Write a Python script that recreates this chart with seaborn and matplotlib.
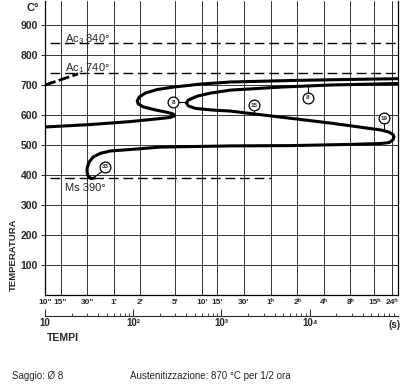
import matplotlib
matplotlib.use("Agg")
import matplotlib.pyplot as plt
from matplotlib.ticker import LogLocator, NullFormatter, NullLocator
import seaborn as sns

# assi: tempi (s) e temperature (°C)
time_ticks = [10, 15, 30, 60, 120, 300, 600, 900, 1800, 3600, 7200, 14400, 28800, 54000, 86400]
time_labels = ['10"', '15"', '30"', "1'", "2'", "5'", "10'", "15'", "30'",
               "1ʰ", "2ʰ", "4ʰ", "8ʰ", "15ʰ", "24ʰ"]
temp_ticks = [100, 200, 300, 400, 500, 600, 700, 800, 900]
sec_ticks = [10, 100, 1000, 10000]
sec_labels = ["10", "10²", "10³", "10⁴"]

# curva esterna (inizio trasformazione)
outer_t = [10, 32, 92, 200, 263, 292, 285, 250, 178, 130, 114, 111, 117, 137,
           187, 285, 577, 1265, 6080, 22500, 98000]
outer_T = [560, 568, 578, 588, 592, 597, 603, 608, 617, 627, 637, 647, 660, 673,
           685, 693, 703, 710, 715, 718, 721]

# curva interna (fine trasformazione) + ramo bainitico
inner_t = [98000, 17300, 4680, 1265, 750, 534, 422, 400, 422, 507, 750, 1265, 3600,
           17300, 64100, 79100, 87700, 90100, 87700, 79100, 64100, 29200, 6080, 1265,
           203, 92.5, 54.8, 42.2, 35.1, 31.6, 30, 30, 30.8, 33.3, 36]
inner_T = [705, 700, 693, 683, 673, 663, 650, 640, 630, 622, 617, 613, 597,
           573, 550, 543, 535, 527, 517, 508, 505, 502, 498, 497,
           493, 485, 480, 472, 460, 443, 423, 410, 397, 388, 390]

# tratto tratteggiato iniziale
start_t = [10, 23.7]
start_T = [700, 737]

ac3, ac1, ms = 840, 740, 390
ms_end = 3600

# durezze (cerchietti)
hv_labels = ["8", "15", "8", "19", "33"]
hv_t = [285, 2310, 9480, 69000, 48]
hv_T = [643, 633, 657, 590, 427]
lead_t = [[324, 395], [2310, 2310], [9480, 9480], [69000, 69000], [43.5, 36]]
lead_T = [[643, 643], [617, 603], [673, 697], [573, 547], [410, 392]]

sns.set_style("white")
plt.rcParams["font.family"] = ["Liberation Sans", "DejaVu Sans"]
plt.rcParams["mathtext.default"] = "regular"

fig = plt.figure(figsize=(4.12, 3.92), dpi=100)
ax = fig.add_axes([45 / 412, 97 / 392, 353 / 412, 294 / 392])
ax.set_xscale("log")
ax.set_xlim(10, 100000)
ax.set_ylim(0, 980)

# griglia
for t in time_ticks:
    ax.axvline(t, color="#333333", lw=0.7, zorder=0)
for T in temp_ticks:
    ax.axhline(T, color="#333333", lw=0.7, zorder=0)

dash = (0, (7, 3.5))
ax.plot([11.4, 100000], [ac3, ac3], color="black", lw=1.0, ls=dash)
ax.plot([11.4, 100000], [ac1, ac1], color="black", lw=1.0, ls=dash)
ax.plot([11.4, ms_end], [ms, ms], color="black", lw=1.0, ls=dash)

sns.lineplot(x=outer_t, y=outer_T, sort=False, estimator=None, color="black", lw=2.2, ax=ax)
sns.lineplot(x=inner_t, y=inner_T, sort=False, estimator=None, color="black", lw=2.2, ax=ax)
ax.plot(start_t, start_T, color="black", lw=2.0, ls=(0, (4, 1.2)))

for lt, lT in zip(lead_t, lead_T):
    ax.plot(lt, lT, color="black", lw=0.8)
sns.scatterplot(x=hv_t, y=hv_T, s=60, color="white", edgecolor="black", linewidth=0.9,
                ax=ax, zorder=5)
for lab, t, T in zip(hv_labels, hv_t, hv_T):
    ax.text(t, T, lab, fontsize=4.5, fontweight="bold", ha="center", va="center", zorder=6)

ax.text(16.9, 853, "Ac$_3$ 840°", fontsize=8, va="center")
ax.text(16.9, 757, "Ac$_1$ 740°", fontsize=8, va="center")
ax.text(16.9, 357, "Ms 390°", fontsize=8, va="center")

ax.set_xticks(time_ticks)
ax.set_xticklabels(time_labels, fontsize=6, fontweight="bold")
ax.xaxis.set_minor_locator(NullLocator())
ax.xaxis.set_minor_formatter(NullFormatter())
ax.tick_params(axis="x", which="both", length=0, pad=3)
ax.set_yticks(temp_ticks)
ax.set_yticklabels([str(v) for v in temp_ticks], fontsize=7.5, fontweight="bold")
ax.tick_params(axis="y", length=3, width=0.7, pad=2, left=True)
ax.spines["top"].set_visible(False)
for s in ["left", "right", "bottom"]:
    ax.spines[s].set_color("black")
    ax.spines[s].set_linewidth(0.9)

sec = ax.secondary_xaxis(-0.07)
sec.set_xticks(sec_ticks)
sec.set_xticklabels(sec_labels, fontsize=7, fontweight="bold")
sec.xaxis.set_minor_locator(LogLocator(subs=range(2, 10)))
sec.xaxis.set_minor_formatter(NullFormatter())
sec.tick_params(axis="x", which="major", direction="in", length=5, width=0.7, pad=2)
sec.tick_params(axis="x", which="minor", direction="in", length=2.5, width=0.6)
sec.spines["bottom"].set_linewidth(0.8)

fig.text(33 / 412, 1 - 8 / 392, "C°", fontsize=8, fontweight="bold", ha="center", va="center")
fig.text(13 / 412, 1 - 255 / 392, "TEMPERATURA", fontsize=6.8, fontweight="bold",
         rotation=90, ha="center", va="center")
fig.text(395 / 412, 1 - 325 / 392, "(s)", fontsize=7, fontweight="bold", ha="center", va="center")
fig.text(47 / 412, 1 - 338 / 392, "TEMPI", fontsize=7.5, fontweight="bold", ha="left", va="center")
fig.text(12 / 412, 1 - 376 / 392, "Saggio: Ø 8", fontsize=7, ha="left", va="center")
fig.text(130 / 412, 1 - 376 / 392, "Austenitizzazione: 870 °C per 1/2 ora", fontsize=7,
         ha="left", va="center")

fig.savefig("out.png", dpi=100)
